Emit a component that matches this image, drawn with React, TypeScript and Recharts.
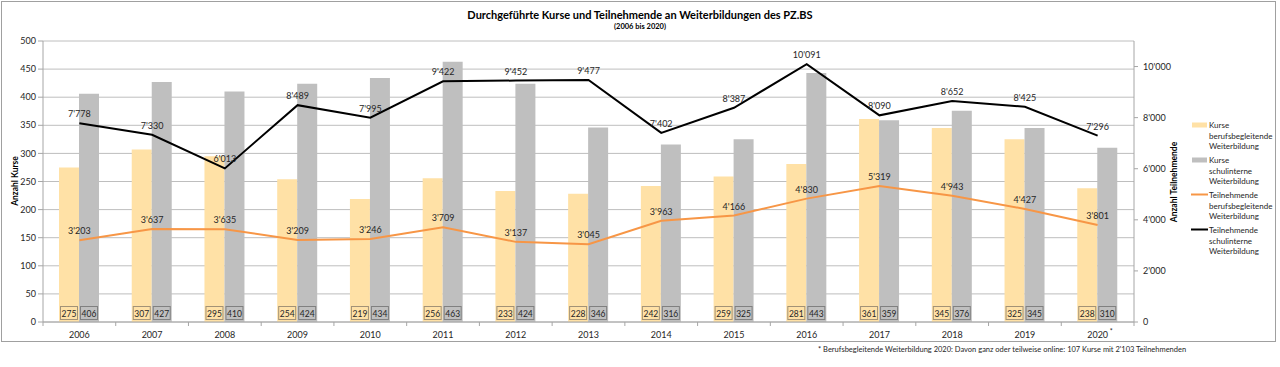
import React from "react";
import {
  Bar,
  CartesianGrid,
  ComposedChart,
  LabelList,
  Line,
  XAxis,
  YAxis,
} from "recharts";

const years = [
  "2006", "2007", "2008", "2009", "2010", "2011", "2012", "2013",
  "2014", "2015", "2016", "2017", "2018", "2019", "2020",
];
const kurseBerufs = [275, 307, 295, 254, 219, 256, 233, 228, 242, 259, 281, 361, 345, 325, 238];
const kurseSchul = [406, 427, 410, 424, 434, 463, 424, 346, 316, 325, 443, 359, 376, 345, 310];
const tnBerufs = [3203, 3637, 3635, 3209, 3246, 3709, 3137, 3045, 3963, 4166, 4830, 5319, 4943, 4427, 3801];
const tnSchul = [7778, 7330, 6013, 8489, 7995, 9422, 9452, 9477, 7402, 8387, 10091, 8090, 8652, 8425, 7296];
const leftTicks = [0, 50, 100, 150, 200, 250, 300, 350, 400, 450, 500];
const rightTicks = [0, 2000, 4000, 6000, 8000, 10000];

const data = years.map((year, i) => ({
  year,
  kurseBerufs: kurseBerufs[i],
  kurseSchul: kurseSchul[i],
  tnBerufs: tnBerufs[i],
  tnSchul: tnSchul[i],
}));

const FONT = "Lato, 'Open Sans', sans-serif";
const TEXT = "#262626";
const GRID = "#BEBEBE";
const ORANGE_BAR = "#FFE1A6";
const GREY_BAR = "#BFBFBF";
const ORANGE_LINE = "#F79646";

// swiss thousands separator
const fmt = (v: number) => String(v).replace(/\B(?=(\d{3})+(?!\d))/g, "'");

const boxLabel = (fill: string, stroke: string) => (props: any) => {
  const { x, y, width, height, value } = props;
  const bottom = Number(y) + Number(height);
  return (
    <g>
      <rect
        x={Number(x) + 1.5}
        y={bottom - 15.5}
        width={Number(width) - 3}
        height={13}
        fill={fill}
        stroke={stroke}
        strokeWidth={1}
      />
      <text
        x={Number(x) + Number(width) / 2}
        y={bottom - 8.5}
        textAnchor="middle"
        dominantBaseline="central"
        fontSize={8.5}
        fontFamily={FONT}
        fill={TEXT}
      >
        {value}
      </text>
    </g>
  );
};

const BAND = 1091 / years.length;

const YearTick = (props: any) => {
  const { x, y, payload, index } = props;
  const last = index === years.length - 1;
  return (
    <g>
      <line x1={x - BAND / 2} x2={x - BAND / 2} y1={322} y2={326} stroke="#A6A6A6" />
      {last && <line x1={x + BAND / 2} x2={x + BAND / 2} y1={322} y2={326} stroke="#A6A6A6" />}
      <text x={x} y={y + 8} textAnchor="middle" fontSize={9} fontFamily={FONT} fill={TEXT}>
        {payload.value}
      </text>
      {last && (
        <text x={x + 12} y={y + 4} fontSize={7} fontFamily={FONT} fill={TEXT}>
          *
        </text>
      )}
    </g>
  );
};

const legendItems = [
  { lines: ["Kurse", "berufsbegleitende", "Weiterbildung"], color: ORANGE_BAR, type: "bar" },
  { lines: ["Kurse", "schulinterne", "Weiterbildung"], color: GREY_BAR, type: "bar" },
  { lines: ["Teilnehmende", "berufsbegleitende", "Weiterbildung"], color: ORANGE_LINE, type: "line" },
  { lines: ["Teilnehmende", "schulinterne", "Weiterbildung"], color: "#000000", type: "line" },
];

export default function App() {
  return (
    <div style={{ position: "absolute", left: 0, top: 0, width: 1280, height: 367, background: "#fff" }}>
      <ComposedChart
        width={1280}
        height={345}
        data={data}
        margin={{ top: 41, right: 106, bottom: 3, left: 0 }}
        barCategoryGap="22%"
        barGap={0}
      >
        <CartesianGrid vertical={false} stroke={GRID} yAxisId="left" />
        <XAxis
          dataKey="year"
          height={20}
          tickLine={false}
          axisLine={{ stroke: "#A6A6A6" }}
          tick={<YearTick />}
          interval={0}
        />
        <YAxis
          yAxisId="left"
          domain={[0, 500]}
          ticks={leftTicks}
          width={43}
          tickSize={5}
          tickMargin={2}
          tick={{ fontSize: 9, fontFamily: FONT, fill: TEXT }}
          tickLine={{ stroke: "#A6A6A6" }}
          axisLine={{ stroke: "#A6A6A6" }}
        />
        <YAxis
          yAxisId="right"
          orientation="right"
          domain={[0, 11000]}
          ticks={rightTicks}
          width={40}
          tickSize={4}
          tickMargin={5}
          tickFormatter={fmt}
          tick={{ fontSize: 9, fontFamily: FONT, fill: TEXT }}
          tickLine={{ stroke: "#A6A6A6" }}
          axisLine={{ stroke: "#A6A6A6" }}
        />
        <Bar yAxisId="left" dataKey="kurseBerufs" fill={ORANGE_BAR} isAnimationActive={false}>
          <LabelList dataKey="kurseBerufs" content={boxLabel(ORANGE_BAR, "#A39276")} />
        </Bar>
        <Bar yAxisId="left" dataKey="kurseSchul" fill={GREY_BAR} isAnimationActive={false}>
          <LabelList dataKey="kurseSchul" content={boxLabel(GREY_BAR, "#808080")} />
        </Bar>
        <Line
          yAxisId="right"
          dataKey="tnBerufs"
          stroke={ORANGE_LINE}
          strokeWidth={2}
          dot={false}
          isAnimationActive={false}
        >
          <LabelList
            dataKey="tnBerufs"
            position="top"
            offset={6}
            formatter={(v: any) => fmt(Number(v))}
            style={{ fontSize: 9, fontFamily: FONT, fill: TEXT }}
          />
        </Line>
        <Line
          yAxisId="right"
          dataKey="tnSchul"
          stroke="#000000"
          strokeWidth={2}
          dot={false}
          isAnimationActive={false}
        >
          <LabelList
            dataKey="tnSchul"
            position="top"
            offset={6}
            formatter={(v: any) => fmt(Number(v))}
            style={{ fontSize: 9, fontFamily: FONT, fill: TEXT }}
          />
        </Line>
      </ComposedChart>

      <svg
        width={1280}
        height={367}
        style={{ position: "absolute", left: 0, top: 0, pointerEvents: "none" }}
        fontFamily={FONT}
      >
        <rect x={1.5} y={1.5} width={1274} height={340} fill="none" stroke="#A0A0A0" />
        <text x={640} y={19} textAnchor="middle" fontSize={11} fontWeight="bold" fill="#000">
          Durchgeführte Kurse und Teilnehmende an Weiterbildungen des PZ.BS
        </text>
        <text x={640} y={29} textAnchor="middle" fontSize={7.5} fontWeight="bold" fill="#000">
          (2006 bis 2020)
        </text>
        <text
          x={18}
          y={181}
          transform="rotate(-90 18 181)"
          textAnchor="middle"
          fontSize={8.5}
          fontWeight="bold"
          fill="#000"
        >
          Anzahl Kurse
        </text>
        <text
          x={1177}
          y={182}
          transform="rotate(-90 1177 182)"
          textAnchor="middle"
          fontSize={8.5}
          fontWeight="bold"
          fill="#000"
        >
          Anzahl Teilnehmende
        </text>
        {legendItems.map((item, i) => {
          const top = 125 + i * 35;
          return (
            <g key={i}>
              {item.type === "bar" ? (
                <rect x={1192} y={top - 2.5} width={15} height={5} fill={item.color} />
              ) : (
                <line x1={1191} x2={1208} y1={top - 0.5} y2={top - 0.5} stroke={item.color} strokeWidth={2} />
              )}
              {item.lines.map((l, j) => (
                <text key={j} x={1209} y={top + 3 + j * 10.5} fontSize={8} fill={TEXT}>
                  {l}
                </text>
              ))}
            </g>
          );
        })}
        <text x={818} y={352} fontSize={7.5} fill={TEXT}>
          * Berufsbegleitende Weiterbildung 2020: Davon ganz oder teilweise online: 107 Kurse mit 2'103 Teilnehmenden
        </text>
      </svg>
    </div>
  );
}
